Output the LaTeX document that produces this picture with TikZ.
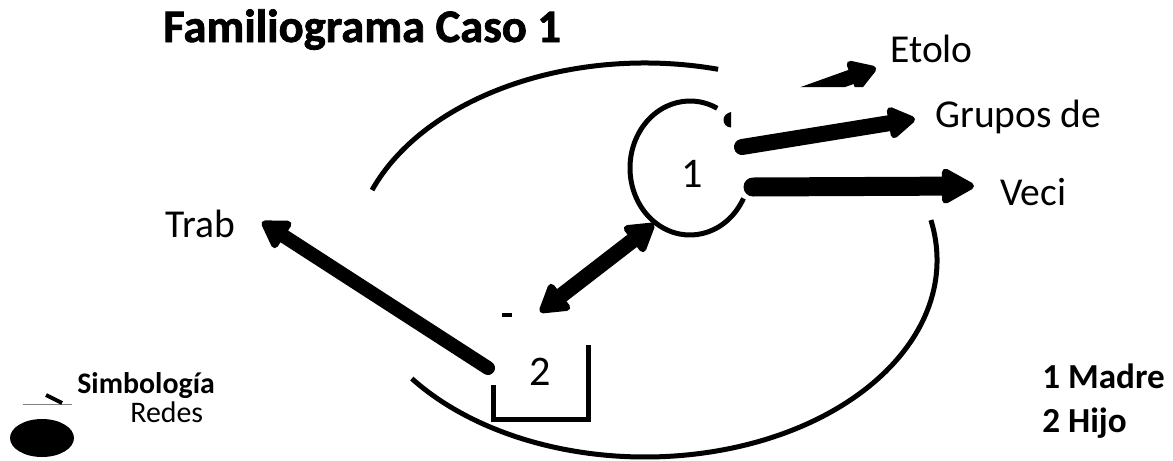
\documentclass[tikz,border=0pt]{standalone}
\usepackage{fontspec}
\setmainfont{Carlito}
\newfontfamily\titlefont{Carlito}[BoldFeatures={FakeBold=1.6}]
\usetikzlibrary{arrows.meta,positioning}

\begin{document}
\begin{tikzpicture}[x=0.02cm, y=-0.02cm,
    ringline/.style={line width=0.1cm},
    netarrow/.style={line width=#1, line cap=round,
        -{Triangle[round, length=0.6cm, width=0.7cm, line width=4pt]}},
    widearrow/.style={line width=#1, line cap=round,
        -{Triangle[round, length=0.72cm, width=0.76cm, line width=4pt]}},
    bothnet/.style={line width=#1, line cap=round,
        {Triangle[round, length=0.62cm, width=0.72cm, line width=4pt]}-{Triangle[round, length=0.62cm, width=0.72cm, line width=4pt]}},
    label/.style={font=\fontsize{22.5}{26}\selectfont, inner sep=0pt, anchor=base west}]
    \useasboundingbox (0,0) rectangle (1173,460);

    % Title
    \node[font=\titlefont\bfseries\fontsize{26.5}{30}\selectfont, inner sep=0pt, anchor=base west] (title) at (163,42) {Familiograma Caso 1};

    % Centres
    \coordinate (ell) at (645,260);
    \coordinate (c1) at (690,168);

    % Big ellipse (with its gaps)
    \draw[ringline] (ell) ++(200.8:292 and 197) arc[start angle=200.8, end angle=284.5, x radius=292, y radius=197];
    \draw[ringline] (ell) ++(-11.7:292 and 197) arc[start angle=-11.7, end angle=143, x radius=292, y radius=197];

    % Member 1 (madre)
    \draw[ringline] (c1) ++(-63:60 and 67) arc[start angle=-63, end angle=-333, x radius=60, y radius=67];
    \node[font=\fontsize{24}{28}\selectfont, inner sep=0pt, anchor=base] (n1) at (692,187) {1};

    % Member 2 (hijo)
    \draw[ringline] (493,385) -- (493,419) -- (588,419) -- (588,345);
    \node[font=\fontsize{24}{28}\selectfont, inner sep=0pt, anchor=base] (n2) at (540,385) {2};
    \draw[line width=0.07cm] (502,315) -- (512,315);

    % Network labels
    \node[label] (trab) at (165,237) {Trab};
    \node[label] (etolo) at (890,62) {Etolo};
    \node[label] (grupos) at (935,127) {Grupos de};
    \node[label] (veci) at (1000,205) {Veci};

    % Arrow ends
    \coordinate (n2top) at (488,368);
    \coordinate (trabtip) at (262,222);
    \coordinate (n2up) at (540,312);
    \coordinate (n1low) at (654,224);
    \coordinate (etolotail) at (731,120);
    \coordinate (etolotip) at (876,68);
    \coordinate (grupostail) at (742,147);
    \coordinate (grupostip) at (915,119);
    \coordinate (vecitail) at (753,187);
    \coordinate (vecitip) at (974,186);

    % Network arrows
    \draw[netarrow=0.28cm] (n2top) -- (trabtip);
    \draw[bothnet=0.31cm] (n2up) -- (n1low);
    \begin{scope}
        \clip (0,0) -- (1173,0) -- (1173,87) -- (731,87) -- (731,460) -- (0,460) -- cycle;
        \draw[netarrow=0.3cm] (etolotail) -- (etolotip);
    \end{scope}
    \draw[netarrow=0.32cm] (grupostail) -- (grupostip);
    \draw[widearrow=0.38cm] (vecitail) -- (vecitip);

    % Legend
    \node[font=\bfseries\fontsize{17}{20}\selectfont, inner sep=0pt, anchor=base west] (simb) at (77,393) {Simbología};
    \node[font=\fontsize{17}{20}\selectfont, inner sep=0pt, anchor=base west] (redes) at (130,422) {Redes};
    \draw[gray, line width=0.5pt] (23,404) -- (72,404);
    \draw[line width=0.08cm] (46,395) -- (62,403);
    \fill (42,438) ellipse [x radius=32, y radius=19];

    \node[font=\bfseries\fontsize{20}{24}\selectfont, inner sep=0pt, anchor=base west] (madre) at (1042,388) {1 Madre};
    \node[font=\bfseries\fontsize{20}{24}\selectfont, inner sep=0pt, anchor=base west] (hijo) at (1042,432) {2 Hijo};
\end{tikzpicture}
\end{document}
